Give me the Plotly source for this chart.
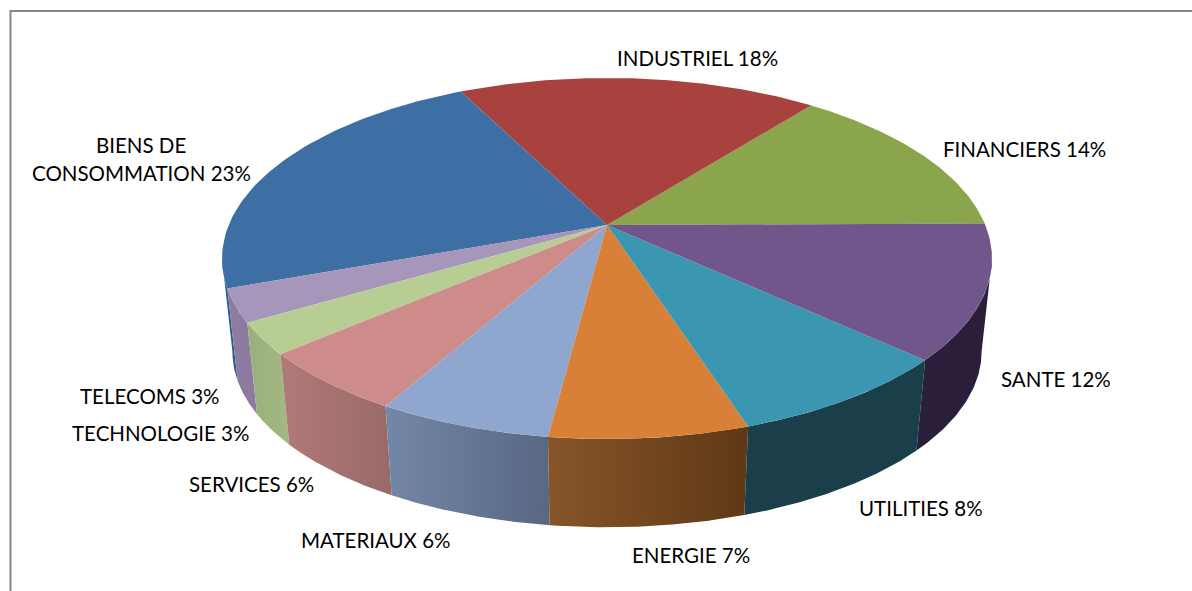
import numpy as np
import plotly.graph_objects as go

# --- data (slice sizes as drawn; labels show them rounded) ---
categories = ["FINANCIERS", "INDUSTRIEL", "BIENS DE\nCONSOMMATION", "TELECOMS", "TECHNOLOGIE",
              "SERVICES", "MATERIAUX", "ENERGIE", "UTILITIES", "SANTE"]
values = [14.25, 18.05, 23.1, 2.95, 2.8, 5.55, 6.13, 7.0, 8.17, 12.0]

# --- styles ---
top_colors = ["#8AA54C", "#A8423F", "#3D6FA5", "#A696B9", "#B8CD94",
              "#CD8C8A", "#8FA7CF", "#D88038", "#3A96B1", "#70568A"]
wall_left = ["#5a6d32", "#6e2b29", "#2F5E92", "#8E7DA0", "#9BAF7D",
             "#B07A78", "#7387A7", "#875528", "#1A3E4A", "#2A1E3A"]
wall_right = ["#5a6d32", "#6e2b29", "#2D5A8A", "#8C7BA0", "#A3B882",
              "#996A68", "#586782", "#5F3816", "#1A3E4A", "#2A1E3A"]
label_centres = [[(1024, 149)], [(697, 58)], [(141, 145), (141, 173)], [(150, 396)], [(160, 433)],
                 [(251, 484)], [(376, 540)], [(691, 555)], [(921, 508)], [(1056, 379)]]

# --- projection of a tilted disc, in the pixel-sized axes of the chart ---
CX, CY = 607.0, 225.0
A, B, K = 174.3, 378.3, 0.1856
WALL_DROP, WALL_SCALE = 94.0, 0.973
START_DEG = 0.5


def project(theta, scale=1.0, drop=0.0):
    u, v = np.cos(theta), -np.sin(theta)
    w = 1 - K * v
    return CX + scale * B * u / w, CY + drop + scale * A * v / w


fractions = np.concatenate([[0], np.cumsum(values)]) / np.sum(values)
edges = np.deg2rad(START_DEG) + 2 * np.pi * fractions
arcs = [np.linspace(edges[i], edges[i + 1], 80) for i in range(len(values))]

# the wall is visible between the two points where the rim is widest on the picture
grid = np.linspace(0, 2 * np.pi, 7201)
grid_x, _ = project(grid)
theta_left, theta_right = grid[np.argmin(grid_x)], grid[np.argmax(grid_x)]

fig = go.Figure()

# outer walls
for i in range(len(values)):
    th = np.clip(arcs[i], theta_left, theta_right)
    if th.max() == th.min():
        continue
    x1, y1 = project(th)
    x2, y2 = project(th, WALL_SCALE, WALL_DROP)
    fig.add_trace(go.Scatter(
        x=np.concatenate([x1, x2[::-1]]), y=np.concatenate([y1, y2[::-1]]),
        mode="lines", line=dict(width=0), fill="toself",
        fillgradient=dict(type="horizontal", colorscale=[[0, wall_left[i]], [1, wall_right[i]]]),
        hoverinfo="skip", showlegend=False))

# top faces
for i in range(len(values)):
    x1, y1 = project(arcs[i])
    fig.add_trace(go.Scatter(
        x=np.concatenate([[CX], x1, [CX]]), y=np.concatenate([[CY], y1, [CY]]),
        mode="lines", line=dict(width=0), fill="toself", fillcolor=top_colors[i],
        name=categories[i], hoverinfo="name", showlegend=False))

# labels
annotations = []
for cat, val, centres in zip(categories, values, label_centres):
    lines = cat.split("\n")
    lines[-1] = f"{lines[-1]} {round(val)}%"
    for line, (lx, ly) in zip(lines, centres):
        annotations.append(dict(x=lx, y=ly, xref="x", yref="y", text=line, showarrow=False,
                                xanchor="center", yanchor="middle",
                                font=dict(family="Lato", size=20.5, color="#000000")))

frame = dict(type="line", xref="x", yref="y", line=dict(color="#868686", width=2))
fig.update_layout(
    width=1192, height=591, margin=dict(l=0, r=0, t=0, b=0),
    paper_bgcolor="white", plot_bgcolor="white",
    xaxis=dict(range=[0, 1192], visible=False, fixedrange=True),
    yaxis=dict(range=[591, 0], visible=False, fixedrange=True),
    annotations=annotations,
    shapes=[dict(frame, x0=10.5, x1=10.5, y0=10, y1=591), dict(frame, x0=10.5, x1=1192, y0=11, y1=11)],
)
fig.write_html("out.html", config={"displayModeBar": False},
               post_script="document.body.style.margin='0';")
